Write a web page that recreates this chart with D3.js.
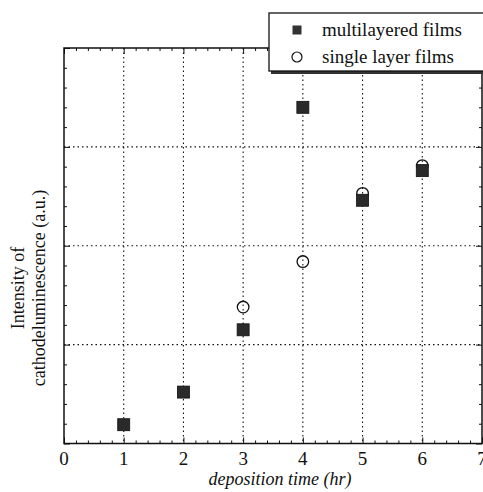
<!DOCTYPE html>
<html>
<head>
<meta charset="utf-8">
<script src="https://cdn.jsdelivr.net/npm/d3@7"></script>
<style>
  html, body { margin: 0; padding: 0; background: #fff; }
  svg { display: block; }
</style>
</head>
<body>
<svg id="chart" width="483" height="492" font-family="Times New Roman"></svg>
<script>
// ---- data ----
const times = [1, 2, 3, 4, 5, 6];
const multilayered = [0.19, 0.52, 1.15, 3.40, 2.46, 2.76];
const singleTimes = [3, 4, 5, 6];
const singleLayer = [1.38, 1.84, 2.53, 2.81];
const xTickValues = [0, 1, 2, 3, 4, 5, 6, 7];
const xGridValues = [1, 2, 3, 4, 5, 6];
const yGridValues = [1, 2, 3];
const legendLabels = ["multilayered films", "single layer films"];
const xLabel = "deposition time (hr)";
const yLabelLines = ["Intensity of", "cathodeluminescence (a.u.)"];

// ---- layout ----
const FONT = "Liberation Serif";
const svg = d3.select("#chart");
const L = 64, R = 482, T = 48, B = 443.5;
const x = d3.scaleLinear().domain([0, 7]).range([L, R]);
const y = d3.scaleLinear().domain([0, 4]).range([B, T]);
const ink = "#111";

// gridlines
svg.append("g").selectAll("line").data(xGridValues).join("line")
  .attr("x1", d => x(d)).attr("x2", d => x(d))
  .attr("y1", T).attr("y2", B)
  .attr("stroke", ink).attr("stroke-width", 1.1).attr("stroke-dasharray", "1.5,3");
svg.append("g").selectAll("line").data(yGridValues).join("line")
  .attr("y1", d => y(d)).attr("y2", d => y(d))
  .attr("x1", L).attr("x2", R)
  .attr("stroke", ink).attr("stroke-width", 1.1).attr("stroke-dasharray", "1.5,3");

// axes with inward ticks (minor every 0.2)
const xMinor = d3.range(0, 7.0001, 0.2);
const yMinor = d3.range(0, 4.0001, 0.2);
function isMajor(v) { return Math.abs(v - Math.round(v)) < 1e-6; }

function tickAxis(axis, tx, ty, prop, sign) {
  const g = svg.append("g").attr("transform", `translate(${tx},${ty})`)
    .call(axis.tickSize(0).tickFormat(""));
  g.selectAll(".tick line").attr(prop, d => sign * (isMajor(d) ? 6 : 3))
    .attr("stroke", ink).attr("stroke-width", 1);
  g.select(".domain").remove();
  g.selectAll(".tick text").remove();
  g.attr("font-family", null);
}
tickAxis(d3.axisBottom(x).tickValues(xMinor), 0, B, "y2", -1);
tickAxis(d3.axisTop(x).tickValues(xMinor), 0, T, "y2", 1);
tickAxis(d3.axisLeft(y).tickValues(yMinor), L, 0, "x2", 1);
tickAxis(d3.axisRight(y).tickValues(yMinor), R, 0, "x2", -1);

// frame
svg.append("rect").attr("x", L).attr("y", T).attr("width", R - L).attr("height", B - T)
  .attr("fill", "none").attr("stroke", ink).attr("stroke-width", 1.5);

// x tick labels
svg.append("g").selectAll("text").data(xTickValues).join("text")
  .attr("x", d => x(d)).attr("y", 465)
  .attr("text-anchor", "middle")
  .attr("font-family", FONT).attr("font-size", 19).attr("fill", ink)
  .text(d => d);

// x label
svg.append("text").attr("x", 280).attr("y", 485)
  .attr("text-anchor", "middle")
  .attr("font-family", FONT).attr("font-size", 18).attr("font-style", "italic").attr("fill", ink)
  .text(xLabel);

// y label
const yl = svg.append("text").attr("transform", "translate(0,288) rotate(-90)")
  .attr("text-anchor", "middle")
  .attr("font-family", FONT).attr("font-size", 18).attr("fill", ink);
yl.append("tspan").attr("x", 0).attr("y", 24).text(yLabelLines[0]);
yl.append("tspan").attr("x", 0).attr("y", 45).text(yLabelLines[1]);

// data: single layer circles
const msz = 12;
svg.append("g").selectAll("circle").data(singleTimes.map((t, i) => [t, singleLayer[i]])).join("circle")
  .attr("cx", d => x(d[0])).attr("cy", d => y(d[1])).attr("r", 5.8)
  .attr("fill", "none").attr("stroke", ink).attr("stroke-width", 1.3);

// multilayered squares
svg.append("g").selectAll("rect").data(times.map((t, i) => [t, multilayered[i]])).join("rect")
  .attr("x", d => x(d[0]) - msz / 2).attr("y", d => y(d[1]) - msz / 2)
  .attr("width", msz).attr("height", msz)
  .attr("fill", "#2a2a2a").attr("stroke", "#111").attr("stroke-width", 0.8);

// legend
const lg = svg.append("g");
const lx = 269, ly = 13, lw = 220, lh = 58;
lg.append("rect").attr("x", lx + 2).attr("y", ly + 3).attr("width", lw).attr("height", lh)
  .attr("fill", "#333");
lg.append("rect").attr("x", lx).attr("y", ly).attr("width", lw).attr("height", lh)
  .attr("fill", "#fff").attr("stroke", ink).attr("stroke-width", 1.3);
lg.append("rect").attr("x", 297 - 4.5).attr("y", 30 - 4.5).attr("width", 9).attr("height", 9)
  .attr("fill", "#333");
lg.append("circle").attr("cx", 297).attr("cy", 57).attr("r", 5)
  .attr("fill", "none").attr("stroke", ink).attr("stroke-width", 1.2);
lg.selectAll("text.lab").data(legendLabels).join("text")
  .attr("class", "lab")
  .attr("x", 322).attr("y", (d, i) => 36 + i * 27)
  .attr("font-family", FONT).attr("font-size", 19).attr("fill", ink)
  .text(d => d);
</script>
</body>
</html>
